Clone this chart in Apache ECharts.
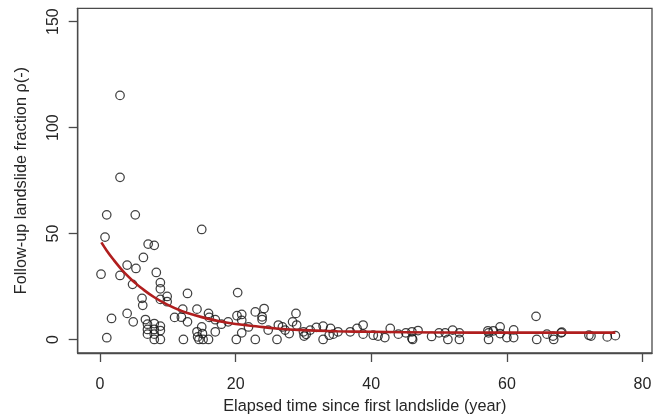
<!DOCTYPE html>
<html>
<head>
<meta charset="utf-8">
<script src="https://cdn.jsdelivr.net/npm/echarts@6/dist/echarts.min.js"></script>
<style>
html,body{margin:0;padding:0;background:#fff;}
#c{width:655px;height:417px;}
</style>
</head>
<body>
<div id="c"></div>
<script>
// Observed points: elapsed time (year) and follow-up landslide fraction
const pointsX = [2.95,2.95,0.99,5.2,15.0,0.74,7.1,8.0,6.4,4.0,5.3,0.15,2.95,8.3,4.8,8.9,8.9,6.2,6.3,8.9,9.9,9.9,12.9,12.2,14.3,20.3,1.7,4.0,4.9,6.7,11.0,12.0,12.9,16.0,16.1,17.0,17.9,18.9,20.2,20.9,20.9,22.9,24.2,23.9,23.9,21.9,20.9,20.1,22.9,26.1,24.8,26.3,26.9,27.3,27.9,28.4,28.9,29.0,30.0,30.1,30.4,31.0,31.9,32.9,32.9,34.0,33.8,34.4,35.1,36.9,37.9,38.8,38.8,40.3,41.0,42.0,42.8,44.0,45.1,46.0,46.0,46.1,46.9,48.9,50.0,50.9,52.0,51.3,53.0,53.0,57.2,57.3,58.0,57.3,59.0,59.0,60.0,61.0,61.0,64.3,64.4,65.9,66.8,66.9,68.0,68.1,72.1,72.4,74.8,76.0,1.0,7.0,7.0,7.0,8.0,8.0,8.0,8.0,8.9,8.9,8.9,12.3,14.3,14.4,15.0,15.1,14.6,15.2,16.0,17.0];
const pointsY = [115.2,76.5,58.8,58.8,51.9,48.3,45.0,44.4,38.7,35.1,33.5,30.8,30.2,31.6,26.0,26.8,23.9,19.4,16.1,18.9,20.3,17.8,21.7,14.3,14.3,22.1,9.9,12.3,8.3,9.4,10.4,10.5,8.3,12.3,10.4,9.3,7.2,8.3,11.2,11.8,9.0,13.0,14.6,10.7,9.4,5.9,3.1,0.0,0.0,0.0,4.4,6.8,5.9,4.4,2.8,8.3,12.3,6.8,3.6,1.6,2.4,4.4,5.7,6.3,0.0,5.2,2.0,2.5,3.6,3.6,5.2,6.8,2.5,2.0,1.6,0.9,5.2,2.5,3.1,3.6,0.5,0.0,4.2,1.4,3.1,3.1,4.4,0.0,3.1,0.0,4.1,3.1,4.1,0.0,5.9,2.8,0.9,4.5,0.9,10.9,0.0,2.5,1.6,0.0,3.1,3.4,2.0,1.6,1.2,1.8,0.8,7.2,4.7,2.5,7.5,4.7,2.5,0.0,6.3,4.2,0.0,0.0,3.6,1.2,5.9,2.8,0.0,0.0,0.0,3.6];

// Fitted decay curve
const curveX = [0.2,1,2,3,4,5,6,8,10,12,14,16,18,20,23,26,30,35,40,50,60,70,76];
const curveY = [45.8,41.9,37.6,33.7,30.2,27.2,24.5,19.9,16.3,13.5,11.4,9.7,8.4,7.3,6.2,5.2,4.4,3.9,3.6,3.3,3.2,3.2,3.2];

const xTicks = [0,20,40,60,80];
const yTicks = [0,50,100,150];

const xTitle = 'Elapsed time since first landslide (year)';
const yTitle = 'Follow-up landslide fraction \u03c1(-)';

const scatterData = pointsX.map((x,i)=>[x,pointsY[i]]);
const curveData = curveX.map((x,i)=>[x,curveY[i]]);

const chart = echarts.init(document.getElementById('c'), null, {renderer:'canvas'});
const fontFamily = '"Liberation Sans", Arial, sans-serif';
const axisColor = '#4a4a4a';
const textColor = '#262626';

chart.setOption({
  animation:false,
  backgroundColor:'#ffffff',
  grid:{left:77.7, right:3, top:8.3, bottom:64, containLabel:false, outerBoundsMode:'none',
        show:true, borderColor:axisColor, borderWidth:1.3, backgroundColor:'transparent'},
  xAxis:{
    type:'value', min:-3.29, max:81.4,
    axisLine:{show:true, onZero:false, lineStyle:{color:axisColor, width:1.3}},
    axisTick:{show:true, inside:false, length:9, customValues:xTicks, lineStyle:{color:axisColor, width:1.3}},
    axisLabel:{show:true, customValues:xTicks, margin:24, color:textColor, fontSize:16, fontFamily:fontFamily},
    splitLine:{show:false},
    name:xTitle, nameLocation:'middle', nameGap:46,
    nameTextStyle:{color:textColor, fontSize:16.3, fontFamily:fontFamily}
  },
  yAxis:{
    type:'value', min:-6.4, max:156.3,
    axisLine:{show:true, onZero:false, lineStyle:{color:axisColor, width:1.3}},
    axisTick:{show:true, inside:false, length:9, customValues:yTicks, lineStyle:{color:axisColor, width:1.3}},
    axisLabel:{show:true, customValues:yTicks, rotate:90, margin:16, color:textColor, fontSize:16, fontFamily:fontFamily},
    splitLine:{show:false},
    name:yTitle, nameLocation:'middle', nameGap:48, nameRotate:90,
    nameTextStyle:{color:textColor, fontSize:16.3, fontFamily:fontFamily}
  },
  series:[
    {
      type:'scatter', data:scatterData, symbol:'circle', symbolSize:8.5,
      itemStyle:{color:'rgba(0,0,0,0)', borderColor:'#111', borderWidth:1.25},
      z:2
    },
    {
      type:'line', data:curveData, smooth:true, showSymbol:false, symbol:'none',
      lineStyle:{color:'#b01e1e', width:2.6},
      z:3
    }
  ]
});
</script>
</body>
</html>
